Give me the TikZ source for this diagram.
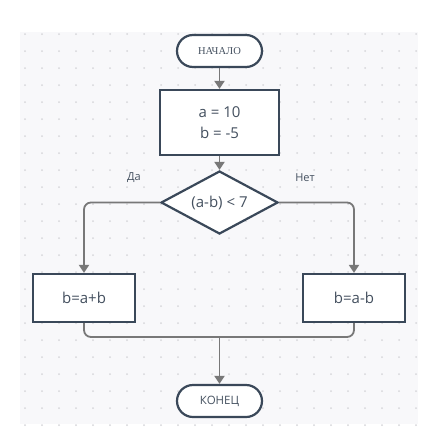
\documentclass[tikz,border=0pt]{standalone}
\usepackage{fontspec}
\setmainfont{Open Sans}
\newfontfamily\serifcaps{Liberation Serif}
\usetikzlibrary{shapes.geometric,arrows.meta}
\definecolor{outl}{HTML}{3A4859}
\definecolor{txt}{HTML}{44505F}
\definecolor{conn}{HTML}{787878}
\definecolor{bgc}{HTML}{F8F8FA}
\definecolor{dotc}{HTML}{D6D6DA}
\begin{document}
\begin{tikzpicture}[x=1pt,y=-1pt,
  shapebase/.style={draw=outl,line width=2.2pt,fill=white,text=txt,inner sep=0pt,align=center},
  terminal/.style={shapebase,rounded corners=16pt,minimum width=85pt,minimum height=32pt},
  procbox/.style={shapebase,minimum width=102pt,minimum height=48pt,font=\fontsize{15}{18}\selectfont},
  decision/.style={shapebase,diamond,aspect=1.86,minimum width=117pt,minimum height=63pt,font=\fontsize{15}{18}\selectfont},
  conline/.style={draw=conn,line width=1.8pt,rounded corners=7pt},
  arr/.style={conline,-{Triangle[width=10pt,length=8pt]}},
  lbl/.style={text=txt,font=\fontsize{11}{12}\selectfont}]
\useasboundingbox (0,0) rectangle (446,434);
\fill[white] (0,0) rectangle (446,434);
\fill[bgc] (20,32) rectangle (418,424);
\foreach \i in {0,...,23}{\foreach \j in {0,...,23}{
  \fill[dotc] ({25+17*\i},{34+17*\j}) circle (1pt);}}
\node[terminal,font=\serifcaps\fontsize{10.5}{12}\selectfont] (start) at (219.5,51) {НАЧАЛО};
\node[shapebase,minimum width=119pt,minimum height=65pt,font=\fontsize{15}{21}\selectfont] (init) at (219.5,122.5) {a = 10\\b = -5};
\node[decision] (cond) at (219.5,202.5) {(a-b) < 7};
\node[procbox] (yes) at (84,298) {b=a+b};
\node[procbox] (no) at (354,298) {b=a-b};
\node[terminal,font=\fontsize{11.5}{13}\selectfont] (stop) at (219.5,401) {КОНЕЦ};
\node[lbl] (da) at (134,178) {Да};
\node[lbl] (net) at (305,178) {Нет};
\coordinate (m) at (219.5,337);
\draw[arr] (start) -- (init);
\draw[arr] (init) -- (cond);
\draw[arr] (cond.west) -| (yes.north);
\draw[arr] (cond.east) -| (no.north);
\draw[conline] (yes.south) |- (m) -| (no.south);
\draw[arr] (m) -- (stop.north);
\end{tikzpicture}
\end{document}
